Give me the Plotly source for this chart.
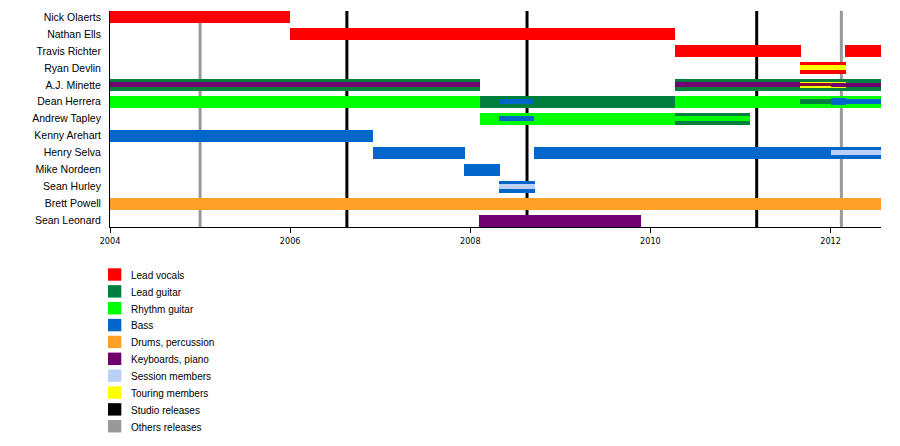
import plotly.graph_objects as go

# ---------------- data ----------------
members = ["Nick Olaerts", "Nathan Ells", "Travis Richter", "Ryan Devlin", "A.J. Minette",
           "Dean Herrera", "Andrew Tapley", "Kenny Arehart", "Henry Selva", "Mike Nordeen",
           "Sean Hurley", "Brett Powell", "Sean Leonard"]

roles = ["Lead vocals", "Lead guitar", "Rhythm guitar", "Bass", "Drums, percussion",
         "Keyboards, piano", "Session members", "Touring members", "Studio releases",
         "Others releases"]
role_colors = ["#FF0000", "#007F3F", "#00FF00", "#0066CC", "#FFA126",
               "#700070", "#BBD0F5", "#FFFF00", "#000000", "#999999"]

# full-height bars: member, role, start, end
bar_member = ["Nick Olaerts", "Nathan Ells", "Travis Richter", "Travis Richter", "Ryan Devlin",
              "A.J. Minette", "A.J. Minette", "Dean Herrera", "Dean Herrera", "Dean Herrera",
              "Andrew Tapley", "Andrew Tapley", "Kenny Arehart", "Henry Selva", "Henry Selva",
              "Mike Nordeen", "Sean Hurley", "Brett Powell", "Sean Leonard"]
bar_role = ["Lead vocals", "Lead vocals", "Lead vocals", "Lead vocals", "Lead vocals",
            "Lead guitar", "Lead guitar", "Rhythm guitar", "Lead guitar", "Rhythm guitar",
            "Rhythm guitar", "Lead guitar", "Bass", "Bass", "Bass",
            "Bass", "Bass", "Drums, percussion", "Keyboards, piano"]
bar_start = [2004.0, 2006.0, 2010.27, 2012.16, 2011.66,
             2004.0, 2010.27, 2004.0, 2008.11, 2010.27,
             2008.11, 2010.27, 2004.0, 2006.92, 2008.71,
             2007.93, 2008.32, 2004.0, 2008.10]
bar_end = [2006.0, 2010.27, 2011.67, 2012.56, 2012.17,
           2008.11, 2012.56, 2008.11, 2010.27, 2012.56,
           2010.27, 2011.11, 2006.92, 2007.94, 2012.56,
           2008.33, 2008.72, 2012.56, 2009.90]

# secondary roles drawn as thin stripes: member, role, start, end
stripe_member = ["Ryan Devlin", "A.J. Minette", "A.J. Minette", "A.J. Minette", "A.J. Minette",
                 "Dean Herrera", "Dean Herrera", "Dean Herrera", "Andrew Tapley", "Andrew Tapley",
                 "Henry Selva", "Sean Hurley"]
stripe_role = ["Touring members", "Keyboards, piano", "Touring members", "Keyboards, piano", "Keyboards, piano",
               "Bass", "Lead guitar", "Bass", "Bass", "Rhythm guitar",
               "Session members", "Session members"]
stripe_start = [2011.66, 2004.0, 2011.66, 2010.27, 2012.0,
                2008.32, 2011.66, 2012.0, 2008.32, 2010.27,
                2012.0, 2008.32]
stripe_end = [2012.17, 2008.11, 2012.17, 2011.66, 2012.56,
              2008.71, 2012.0, 2012.56, 2008.71, 2011.11,
              2012.56, 2008.72]

# short overlapping blocks (touring period)
block_member = ["A.J. Minette", "Dean Herrera"]
block_color = ["#8A0A3C", "#0066CC"]
block_start = [2011.66, 2012.0]
block_end = [2012.0, 2012.17]

studio_releases = [2006.63, 2008.63, 2011.18]
other_releases = [2005.0, 2012.12]

x_ticks = [2004, 2006, 2008, 2010, 2012]
x_min, x_max = 2004.0, 2012.56

# ---------------- figure ----------------
cmap = dict(zip(roles, role_colors))
row = {m: i for i, m in enumerate(members)}
ROW_PX = 16.96
FULL = 12.0 / ROW_PX
STRIPE = 4.6 / ROW_PX
INNER = 3.2 / ROW_PX
BLOCK = 7.0 / ROW_PX

fig = go.Figure()


def add_bar(member, start, end, color, width):
    fig.add_trace(go.Bar(
        orientation="h", y=[row[member]], x=[end - start], base=[start],
        width=[width], marker=dict(color=color, line=dict(width=0)),
        showlegend=False, hoverinfo="skip"))


for m, r, s, e in zip(bar_member, bar_role, bar_start, bar_end):
    add_bar(m, s, e, cmap[r], FULL)

for m, r, s, e in zip(stripe_member, stripe_role, stripe_start, stripe_end):
    w = STRIPE
    if r == "Touring members":
        w = (6.5 if m == "A.J. Minette" else 4.8) / ROW_PX
    if m == "A.J. Minette" and r == "Keyboards, piano":
        w = 5.0 / ROW_PX if s < 2012 else 4.0 / ROW_PX
    add_bar(m, s, e, cmap[r], w)

for m, c, s, e in zip(block_member, block_color, block_start, block_end):
    w = INNER if m == "A.J. Minette" else BLOCK
    add_bar(m, s, e, c, w)

shapes = []
for xv in studio_releases:
    shapes.append(dict(type="line", xref="x", yref="paper", x0=xv, x1=xv, y0=0, y1=1,
                       line=dict(color=cmap["Studio releases"], width=3), layer="below"))
for xv in other_releases:
    shapes.append(dict(type="line", xref="x", yref="paper", x0=xv, x1=xv, y0=0, y1=1,
                       line=dict(color=cmap["Others releases"], width=3), layer="below"))

# page body margin compensation (8px)
OFF = 8
W, H = 900 - OFF, 446 - OFF
L, T, PW, PH = 110 - OFF, 11 - OFF, 771, 216
annotations = []


def px_x(x):  # x in reference pixel coords
    return (x - OFF - L) / PW


def px_y(y):
    return (T + PH - (y - OFF)) / PH


for i, (r, c) in enumerate(zip(roles, role_colors)):
    cy = 274.5 + 16.86 * i
    shapes.append(dict(type="rect", xref="paper", yref="paper",
                       x0=px_x(108), x1=px_x(121.3), y0=px_y(cy - 6.2), y1=px_y(cy + 6.2),
                       fillcolor=c, line=dict(width=0), layer="above"))
    annotations.append(dict(xref="paper", yref="paper", x=px_x(129), y=px_y(cy + 0.8),
                            text=r, showarrow=False, xanchor="left", yanchor="middle",
                            font=dict(family="Liberation Sans, Arial, sans-serif", size=10, color="#000")))

fig.update_layout(
    width=W, height=H,
    margin=dict(l=L, r=W - L - PW, t=T, b=H - T - PH),
    paper_bgcolor="white", plot_bgcolor="white",
    barmode="overlay", bargap=0,
    shapes=shapes, annotations=annotations,
    showlegend=False,
    xaxis=dict(range=[x_min, x_max], tickvals=x_ticks, ticktext=[str(t) for t in x_ticks],
               showgrid=False, zeroline=False, showline=True, linecolor="black", linewidth=1,
               ticks="outside", ticklen=5, tickcolor="black", tickwidth=1,
               tickfont=dict(family="Liberation Sans Narrow, DejaVu Sans Condensed, Arial Narrow, sans-serif",
                             size=9, color="#000")),
    yaxis=dict(range=[12 + 6.5 / ROW_PX, -6.0 / ROW_PX], tickvals=list(range(len(members))),
               ticktext=members, showgrid=False, zeroline=False, showline=True,
               linecolor="black", linewidth=1, ticks="", ticklabelstandoff=6,
               tickfont=dict(family="Liberation Sans, Arial, sans-serif", size=10.5, color="#000")),
)

fig.write_html("out.html")
